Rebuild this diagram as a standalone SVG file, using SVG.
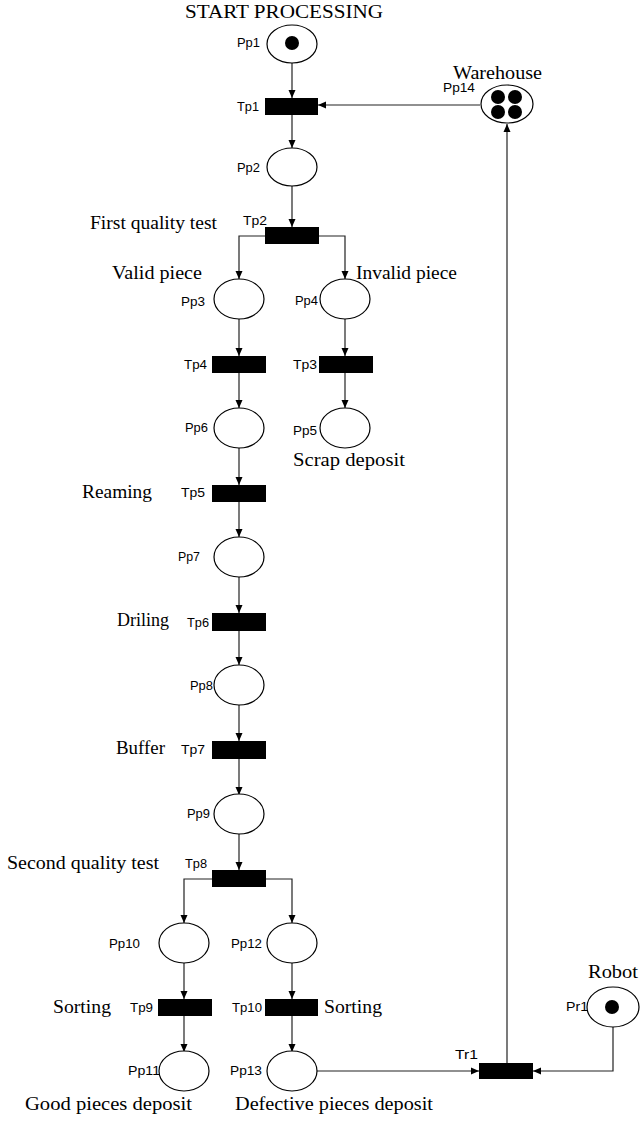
<svg xmlns="http://www.w3.org/2000/svg" width="642" height="1121" viewBox="0 0 642 1121">
<style>
.pl{fill:#fff;stroke:#000;stroke-width:1.2}
.tr{fill:#000}
.tk{fill:#000}
.c{fill:none;stroke:#222;stroke-width:1.2}
.s{font-family:"Liberation Sans",Arial,sans-serif;font-size:12.5px;fill:#000}
.t{font-family:"Liberation Serif","Times New Roman",serif;font-size:18px;fill:#000}
</style>
<defs>
<marker id="ah" markerUnits="userSpaceOnUse" markerWidth="9" markerHeight="8" refX="8" refY="4" orient="auto">
<path d="M0,0.5 L8,4 L0,7.5 z" fill="#000"/>
</marker>
</defs>
<rect width="642" height="1121" fill="#fff"/>
<g id="connectors" class="c" marker-end="url(#ah)">
<path d="M292,63 V98"/>
<path d="M480,105 H318"/>
<path d="M292,115 V148"/>
<path d="M292,186 V227"/>
<path d="M265,236 H239 V279"/>
<path d="M319,236 H345 V279"/>
<path d="M239,319 V356"/>
<path d="M345,319 V356"/>
<path d="M239,373 V408"/>
<path d="M345,373 V408"/>
<path d="M239,448 V485"/>
<path d="M239,502 V537"/>
<path d="M239,577 V613"/>
<path d="M239,631 V665"/>
<path d="M239,705 V741"/>
<path d="M239,759 V795"/>
<path d="M239,834 V870"/>
<path d="M212,879 H184 V923"/>
<path d="M266,879 H292 V923"/>
<path d="M184,963 V999"/>
<path d="M292,963 V999"/>
<path d="M184,1016 V1052"/>
<path d="M292,1016 V1052"/>
<path d="M317,1071 H479"/>
<path d="M613,1027 V1071 H533"/>
<path d="M507,1063 V124"/>
</g>
<text class="t" x="185" y="18" textLength="198" lengthAdjust="spacingAndGlyphs">START PROCESSING</text>
<g id="Pp1"><ellipse class="pl" cx="292" cy="44" rx="25" ry="19"/><circle class="tk" cx="292" cy="43" r="7"/><text class="s" x="237" y="47" textLength="23" lengthAdjust="spacingAndGlyphs">Pp1</text></g>
<g id="Tp1"><rect class="tr" x="265" y="98" width="53" height="17"/><text class="s" x="237" y="111" textLength="22" lengthAdjust="spacingAndGlyphs">Tp1</text></g>
<g id="Pp14"><ellipse class="pl" cx="507" cy="104" rx="26" ry="19"/><circle class="tk" cx="498" cy="97" r="7"/><circle class="tk" cx="515" cy="97" r="7"/><circle class="tk" cx="498" cy="112" r="7"/><circle class="tk" cx="515" cy="112" r="7"/><text class="s" x="443" y="92" textLength="32" lengthAdjust="spacingAndGlyphs">Pp14</text><text class="t" x="453" y="79" textLength="89" lengthAdjust="spacingAndGlyphs">Warehouse</text></g>
<g id="Pp2"><ellipse class="pl" cx="292" cy="167" rx="25" ry="19"/><text class="s" x="237" y="172" textLength="23" lengthAdjust="spacingAndGlyphs">Pp2</text></g>
<g id="Tp2"><rect class="tr" x="265" y="227" width="54" height="17"/><text class="s" x="243" y="225" textLength="24" lengthAdjust="spacingAndGlyphs">Tp2</text><text class="t" x="90" y="229" textLength="127" lengthAdjust="spacingAndGlyphs">First quality test</text></g>
<g id="Pp3"><ellipse class="pl" cx="239" cy="299" rx="25" ry="20"/><text class="s" x="181" y="306" textLength="24" lengthAdjust="spacingAndGlyphs">Pp3</text><text class="t" x="112" y="279" textLength="90" lengthAdjust="spacingAndGlyphs">Valid piece</text></g>
<g id="Pp4"><ellipse class="pl" cx="345" cy="299" rx="25" ry="20"/><text class="s" x="295" y="305" textLength="23" lengthAdjust="spacingAndGlyphs">Pp4</text><text class="t" x="356" y="279" textLength="101" lengthAdjust="spacingAndGlyphs">Invalid piece</text></g>
<g id="Tp4"><rect class="tr" x="212" y="356" width="54" height="17"/><text class="s" x="184" y="369" textLength="23" lengthAdjust="spacingAndGlyphs">Tp4</text></g>
<g id="Tp3"><rect class="tr" x="319" y="356" width="54" height="17"/><text class="s" x="293" y="369" textLength="24" lengthAdjust="spacingAndGlyphs">Tp3</text></g>
<g id="Pp6"><ellipse class="pl" cx="239" cy="428" rx="25" ry="20"/><text class="s" x="185" y="432" textLength="23" lengthAdjust="spacingAndGlyphs">Pp6</text></g>
<g id="Pp5"><ellipse class="pl" cx="345" cy="428" rx="25" ry="20"/><text class="s" x="293" y="435" textLength="24" lengthAdjust="spacingAndGlyphs">Pp5</text><text class="t" x="293" y="466" textLength="112" lengthAdjust="spacingAndGlyphs">Scrap deposit</text></g>
<g id="Tp5"><rect class="tr" x="212" y="485" width="54" height="17"/><text class="s" x="181" y="497" textLength="24" lengthAdjust="spacingAndGlyphs">Tp5</text><text class="t" x="82" y="498" textLength="70" lengthAdjust="spacingAndGlyphs">Reaming</text></g>
<g id="Pp7"><ellipse class="pl" cx="239" cy="557" rx="25" ry="20"/><text class="s" x="178" y="561" textLength="22" lengthAdjust="spacingAndGlyphs">Pp7</text></g>
<g id="Tp6"><rect class="tr" x="212" y="613" width="54" height="18"/><text class="s" x="187" y="627" textLength="22" lengthAdjust="spacingAndGlyphs">Tp6</text><text class="t" x="117" y="626" textLength="52" lengthAdjust="spacingAndGlyphs">Driling</text></g>
<g id="Pp8"><ellipse class="pl" cx="239" cy="685" rx="25" ry="20"/><text class="s" x="190" y="690" textLength="23" lengthAdjust="spacingAndGlyphs">Pp8</text></g>
<g id="Tp7"><rect class="tr" x="212" y="741" width="54" height="18"/><text class="s" x="181" y="754" textLength="24" lengthAdjust="spacingAndGlyphs">Tp7</text><text class="t" x="116" y="754" textLength="49" lengthAdjust="spacingAndGlyphs">Buffer</text></g>
<g id="Pp9"><ellipse class="pl" cx="239" cy="814" rx="25" ry="20"/><text class="s" x="187" y="818" textLength="23" lengthAdjust="spacingAndGlyphs">Pp9</text></g>
<g id="Tp8"><rect class="tr" x="212" y="870" width="54" height="17"/><text class="s" x="185" y="868" textLength="22" lengthAdjust="spacingAndGlyphs">Tp8</text><text class="t" x="7" y="869" textLength="152" lengthAdjust="spacingAndGlyphs">Second quality test</text></g>
<g id="Pp10"><ellipse class="pl" cx="184" cy="943" rx="25" ry="20"/><text class="s" x="109" y="948" textLength="31" lengthAdjust="spacingAndGlyphs">Pp10</text></g>
<g id="Pp12"><ellipse class="pl" cx="292" cy="943" rx="25" ry="20"/><text class="s" x="231" y="948" textLength="31" lengthAdjust="spacingAndGlyphs">Pp12</text></g>
<g id="Tp9"><rect class="tr" x="158" y="999" width="54" height="17"/><text class="s" x="130" y="1012" textLength="23" lengthAdjust="spacingAndGlyphs">Tp9</text><text class="t" x="53" y="1013" textLength="58" lengthAdjust="spacingAndGlyphs">Sorting</text></g>
<g id="Tp10"><rect class="tr" x="265" y="999" width="53" height="17"/><text class="s" x="232" y="1012" textLength="30" lengthAdjust="spacingAndGlyphs">Tp10</text><text class="t" x="324" y="1013" textLength="58" lengthAdjust="spacingAndGlyphs">Sorting</text></g>
<g id="Pp11"><ellipse class="pl" cx="184" cy="1071" rx="25" ry="20"/><text class="s" x="128" y="1075" textLength="32" lengthAdjust="spacingAndGlyphs">Pp11</text><text class="t" x="25" y="1110" textLength="167" lengthAdjust="spacingAndGlyphs">Good pieces deposit</text></g>
<g id="Pp13"><ellipse class="pl" cx="292" cy="1071" rx="25" ry="20"/><text class="s" x="230" y="1075" textLength="32" lengthAdjust="spacingAndGlyphs">Pp13</text><text class="t" x="235" y="1110" textLength="198" lengthAdjust="spacingAndGlyphs">Defective pieces deposit</text></g>
<g id="Tr1"><rect class="tr" x="479" y="1063" width="54" height="16"/><text class="s" x="455" y="1059" textLength="23" lengthAdjust="spacingAndGlyphs">Tr1</text></g>
<g id="Pr1"><ellipse class="pl" cx="613" cy="1007" rx="26" ry="20"/><circle class="tk" cx="612" cy="1007" r="7"/><text class="s" x="566" y="1011" textLength="22" lengthAdjust="spacingAndGlyphs">Pr1</text><text class="t" x="588" y="978" textLength="50" lengthAdjust="spacingAndGlyphs">Robot</text></g>
</svg>
